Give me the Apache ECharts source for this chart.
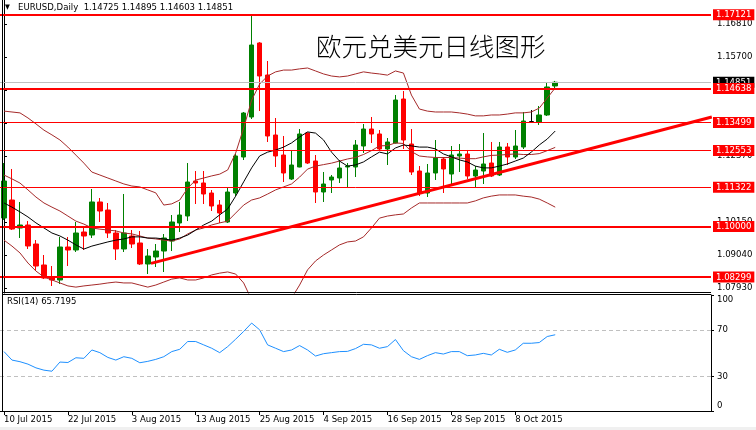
<!DOCTYPE html>
<html><head><meta charset="utf-8">
<script src="https://cdn.jsdelivr.net/npm/echarts@6.0.0/dist/echarts.min.js"></script>
<style>html,body{margin:0;padding:0;background:#fff}#c{width:756px;height:430px}</style>
</head><body><div id="c"></div>
<script>
const symbolName = 'EURUSD';
const periodName = 'Daily';
const chartTitle = '欧元兑美元日线图形';
const dates = ['10 Jul 2015','13 Jul 2015','14 Jul 2015','15 Jul 2015','16 Jul 2015','17 Jul 2015','20 Jul 2015','21 Jul 2015','22 Jul 2015','23 Jul 2015',
'24 Jul 2015','27 Jul 2015','28 Jul 2015','29 Jul 2015','30 Jul 2015','31 Jul 2015','3 Aug 2015','4 Aug 2015','5 Aug 2015','6 Aug 2015',
'7 Aug 2015','10 Aug 2015','11 Aug 2015','12 Aug 2015','13 Aug 2015','14 Aug 2015','17 Aug 2015','18 Aug 2015','19 Aug 2015','20 Aug 2015',
'21 Aug 2015','24 Aug 2015','25 Aug 2015','26 Aug 2015','27 Aug 2015','28 Aug 2015','31 Aug 2015','1 Sep 2015','2 Sep 2015','3 Sep 2015',
'4 Sep 2015','7 Sep 2015','8 Sep 2015','9 Sep 2015','10 Sep 2015','11 Sep 2015','14 Sep 2015','15 Sep 2015','16 Sep 2015','17 Sep 2015',
'18 Sep 2015','21 Sep 2015','22 Sep 2015','23 Sep 2015','24 Sep 2015','25 Sep 2015','28 Sep 2015','29 Sep 2015','30 Sep 2015','1 Oct 2015',
'2 Oct 2015','5 Oct 2015','6 Oct 2015','7 Oct 2015','8 Oct 2015','9 Oct 2015','12 Oct 2015','13 Oct 2015','14 Oct 2015','15 Oct 2015'];
const opens = [1.10284,1.10890,1.09948,1.10049,1.09410,1.08704,1.08300,1.08199,1.09309,1.09208,
1.09813,1.09712,1.10823,1.10553,1.09780,1.09242,1.09679,1.09444,1.08737,1.08973,
1.09174,1.09511,1.10116,1.10352,1.11529,1.11462,1.11125,1.10722,1.10150,1.11125,
1.12336,1.13682,1.16171,1.15094,1.13076,1.12403,1.11596,1.12000,1.13143,1.12202,
1.11159,1.11563,1.11630,1.12000,1.12000,1.12706,1.13278,1.13110,1.12605,1.12807,
1.14287,1.12773,1.11865,1.11125,1.11798,1.12269,1.11764,1.12370,1.12437,1.11697,
1.11865,1.12134,1.11731,1.12673,1.12336,1.12673,1.13530,1.13513,1.13749,1.14725];
const highs = [1.12134,1.11933,1.10823,1.10183,1.09544,1.09040,1.08670,1.09645,1.09645,1.10150,
1.10015,1.11260,1.10957,1.10789,1.09881,1.11092,1.09881,1.09847,1.09242,1.09410,
1.09746,1.10385,1.10823,1.12134,1.11865,1.11865,1.11226,1.10890,1.11293,1.12437,
1.13850,1.17121,1.16200,1.15565,1.13648,1.13043,1.12572,1.13278,1.13160,1.12403,
1.11832,1.11731,1.12235,1.12134,1.12908,1.13446,1.13682,1.13244,1.12975,1.14422,
1.14556,1.13278,1.12033,1.12101,1.12908,1.12336,1.12706,1.12773,1.12572,1.12033,
1.13143,1.12841,1.12841,1.12807,1.13244,1.13850,1.13917,1.14052,1.14859,1.14895];
const lows = [1.10217,1.09881,1.09612,1.09242,1.08502,1.08233,1.07997,1.08064,1.08670,1.09141,
1.09208,1.09612,1.10150,1.09612,1.08872,1.09141,1.09275,1.08704,1.08401,1.08636,
1.08468,1.09174,1.09813,1.10183,1.10755,1.10755,1.10520,1.10116,1.10116,1.11024,
1.12235,1.13614,1.13883,1.12841,1.12000,1.11495,1.11563,1.11990,1.12101,1.10789,
1.10823,1.11125,1.11462,1.11293,1.11663,1.12471,1.12807,1.12538,1.12067,1.12790,
1.12605,1.11731,1.11024,1.10991,1.11563,1.11125,1.11428,1.11832,1.11596,1.11293,
1.11428,1.11663,1.11697,1.12067,1.12269,1.12605,1.13480,1.13413,1.13715,1.14603];
const closes = [1.11529,1.09914,1.10049,1.09343,1.08670,1.08266,1.08199,1.09309,1.09208,1.09780,
1.09679,1.10823,1.10520,1.09780,1.09242,1.09780,1.09410,1.08737,1.09006,1.09174,
1.09612,1.10150,1.10385,1.11495,1.11462,1.11092,1.10688,1.10453,1.11159,1.12370,
1.13816,1.16103,1.15061,1.13043,1.12370,1.11798,1.12067,1.13110,1.12134,1.11159,
1.11428,1.11663,1.11966,1.12033,1.12740,1.13278,1.13110,1.12605,1.12841,1.14253,
1.12908,1.11832,1.11125,1.11798,1.12303,1.11933,1.12403,1.12437,1.11697,1.11899,
1.12101,1.11697,1.12673,1.12336,1.12706,1.13547,1.13530,1.13749,1.14691,1.14851];
const bbUpper = [1.1388,1.1385,1.1382,1.1365,1.1345,1.1324,1.1308,1.1291,1.1267,1.1240,
1.1213,1.1183,1.1173,1.1163,1.1153,1.1143,1.1136,1.1133,1.1123,1.1113,
1.1072,1.1076,1.1089,1.1129,1.1156,1.1163,1.1170,1.1176,1.1190,1.1247,
1.1331,1.1425,1.1479,1.1506,1.1520,1.1526,1.1526,1.1530,1.1533,1.1523,
1.1513,1.1506,1.1503,1.1506,1.1513,1.1520,1.1516,1.1513,1.1509,1.1523,
1.1516,1.1442,1.1395,1.1388,1.1385,1.1385,1.1385,1.1382,1.1378,1.1372,
1.1372,1.1375,1.1375,1.1378,1.1382,1.1382,1.1385,1.1398,1.1432,1.1466];
const bbMiddle = [1.1173,1.1160,1.1146,1.1123,1.1099,1.1079,1.1065,1.1052,1.1035,1.1018,
1.1008,1.0995,1.0991,1.0988,1.0985,1.0978,1.0975,1.0968,1.0961,1.0958,
1.0954,1.0951,1.0958,1.0975,1.0988,1.0995,1.1005,1.1012,1.1018,1.1045,
1.1072,1.1089,1.1096,1.1109,1.1123,1.1133,1.1143,1.1166,1.1193,1.1203,
1.1208,1.1213,1.1220,1.1227,1.1232,1.1242,1.1255,1.1271,1.1272,1.1281,
1.1279,1.1252,1.1237,1.1234,1.1232,1.1232,1.1232,1.1230,1.1228,1.1228,
1.1234,1.1239,1.1240,1.1242,1.1244,1.1242,1.1242,1.1245,1.1255,1.1266];
const bbLower = [1.0954,1.0934,1.0911,1.0877,1.0850,1.0830,1.0820,1.0810,1.0800,1.0796,
1.0800,1.0803,1.0806,1.0810,1.0813,1.0810,1.0810,1.0803,1.0796,1.0803,
1.0813,1.0823,1.0827,1.0820,1.0820,1.0827,1.0837,1.0843,1.0847,1.0840,
1.0810,1.0753,1.0712,1.0716,1.0726,1.0739,1.0759,1.0803,1.0854,1.0884,
1.0904,1.0921,1.0938,1.0948,1.0951,1.0965,1.0995,1.1028,1.1035,1.1039,
1.1042,1.1062,1.1079,1.1079,1.1079,1.1079,1.1079,1.1079,1.1079,1.1086,
1.1096,1.1102,1.1106,1.1106,1.1106,1.1102,1.1099,1.1092,1.1079,1.1065];
const maLine = [1.1079,1.1065,1.1049,1.1032,1.1012,1.0995,1.0978,1.0968,1.0954,1.0938,
1.0924,1.0934,1.0941,1.0948,1.0954,1.0958,1.0965,1.0965,1.0961,1.0961,
1.0958,1.0954,1.0961,1.0971,1.0988,1.1005,1.1018,1.1039,1.1059,1.1102,
1.1150,1.1197,1.1237,1.1250,1.1257,1.1267,1.1281,1.1301,1.1318,1.1314,
1.1291,1.1250,1.1220,1.1203,1.1207,1.1217,1.1234,1.1250,1.1244,1.1264,
1.1274,1.1271,1.1267,1.1267,1.1261,1.1244,1.1234,1.1224,1.1217,1.1203,
1.1197,1.1197,1.1203,1.1210,1.1220,1.1230,1.1250,1.1274,1.1294,1.1321];
const rsi = [51.2,43.9,42.5,40.4,37.2,35.2,34.3,42.2,41.8,45.9,
45.4,52.6,50.3,46.2,43.9,46.8,45.4,41.6,42.8,44.5,
46.8,51.2,53.2,59.9,59.9,57.0,54.1,50.3,55.5,61.9,
68.6,75.8,70.0,57.0,54.1,51.2,52.6,56.4,52.6,47.4,
49.4,50.3,51.2,51.4,53.8,57.5,57.0,54.1,55.5,61.6,
52.0,46.8,44.5,47.7,50.3,49.1,51.2,51.2,47.7,48.3,
49.7,48.3,53.2,50.6,52.6,58.4,58.4,59.0,64.2,65.7195];
const levels = [1.17121,1.14638,1.13499,1.12553,1.11322,1.10000,1.08299];
const currentPrice = 1.14851;
const priceTicks = [1.07930,1.09040,1.10150,1.11260,1.12370,1.13480,1.14590,1.15700,1.16810];
const rsiTicks = [0,30,70,100];
const rsiLevels = [70,30];
const trendX = [18.4, 88.6];
const trendY = [1.0876, 1.1368];

// ---- styling / layout ----
const thickLevels = [1.17121,1.14638,1.10000,1.08299];
const padSlots = 19;
const FONT = '"DejaVu Sans Condensed","Liberation Sans",sans-serif';
const cats = dates.concat(new Array(padSlots).fill(''));
const candles = dates.map((d,i)=>[opens[i],closes[i],lows[i],highs[i]]);
const last = dates.length-1;
const header = symbolName + ',' + periodName + '  ' + [opens[last],highs[last],lows[last],closes[last]].map(v=>v.toFixed(5)).join(' ');
const rsiLabel = 'RSI(14) ' + rsi[last].toFixed(4);
const labelEvery = (i, v) => i % 8 === 0 && v !== '';

const chart = echarts.init(document.getElementById('c'), null, {renderer:'canvas'});
const levelData = [{
  yAxis: currentPrice,
  lineStyle:{color:'#c0c0c0', width:1, type:'solid'},
  label:{backgroundColor:'#000', color:'#fff'}
}].concat(levels.map(v=>({
  yAxis: v,
  lineStyle:{color:'#ff0000', width: thickLevels.includes(v)?2:1, type:'solid'},
  label:{backgroundColor:'#ff0000', color:'#fff'}
})));

chart.setOption({
  animation:false,
  backgroundColor:'#fff',
  grid:[
    {left:-1, right:45, top:0, height:293},
    {left:-1, right:45, top:295, height:116}
  ],
  xAxis:[
    {type:'category', gridIndex:0, data:cats, boundaryGap:true, show:false},
    {type:'value', gridIndex:0, min:-0.5, max:cats.length-0.5, show:false},
    {type:'category', gridIndex:1, data:cats, boundaryGap:true,
     axisLine:{show:true, lineStyle:{color:'#000', width:1}},
     axisTick:{show:true, interval:labelEvery, alignWithLabel:true, length:4, lineStyle:{color:'#000'}},
     axisLabel:{show:true, interval:labelEvery, align:'left', margin:4, color:'#000', fontSize:9.5, fontFamily:FONT},
     splitLine:{show:false}}
  ],
  yAxis:[
    {type:'value', gridIndex:0, position:'right', min:1.07762, max:1.17617, scale:true,
     axisLine:{show:true, lineStyle:{color:'#000', width:1}},
     axisTick:{show:true, length:3, customValues:priceTicks, lineStyle:{color:'#000'}},
     axisLabel:{show:true, customValues:priceTicks, margin:6, color:'#000', fontSize:9.5, fontFamily:FONT,
       formatter:v=>v.toFixed(5)},
     splitLine:{show:false}},
    {type:'value', gridIndex:1, position:'right', min:0, max:100,
     axisLine:{show:true, lineStyle:{color:'#000', width:1}},
     axisTick:{show:true, length:3, customValues:rsiTicks, lineStyle:{color:'#000'}},
     axisLabel:{show:true, customValues:rsiTicks, margin:6, color:'#000', fontSize:9.5, fontFamily:FONT,
       verticalAlignMinLabel:'bottom', verticalAlignMaxLabel:'top'},
     splitLine:{show:false}}
  ],
  series:[
    {type:'candlestick', xAxisIndex:0, yAxisIndex:0, data:candles, barWidth:5, z:2,
     itemStyle:{color:'#008000', color0:'#ff0000', borderColor:'#008000', borderColor0:'#ff0000', borderColorDoji:'#000', borderWidth:1},
     markLine:{silent:true, symbol:['none','none'], z:5, animation:false, precision:5,
       label:{show:true, position:'end', distance:2, fontSize:9.5, fontFamily:FONT, padding:[1,3,0,3],
         formatter:p=>Number(p.value).toFixed(5)},
       emphasis:{disabled:true},
       data:levelData}
    },
    {type:'line', xAxisIndex:0, yAxisIndex:0, data:bbUpper, symbol:'none', lineStyle:{color:'#a52a2a', width:1}, z:3},
    {type:'line', xAxisIndex:0, yAxisIndex:0, data:bbMiddle, symbol:'none', lineStyle:{color:'#a52a2a', width:1}, z:3},
    {type:'line', xAxisIndex:0, yAxisIndex:0, data:bbLower, symbol:'none', lineStyle:{color:'#a52a2a', width:1}, z:3},
    {type:'line', xAxisIndex:0, yAxisIndex:0, data:maLine, symbol:'none', lineStyle:{color:'#000', width:1}, z:3},
    {type:'line', xAxisIndex:1, yAxisIndex:0, data:trendX.map((x,i)=>[x,trendY[i]]), symbol:'none', lineStyle:{color:'#ff0000', width:3}, z:6},
    {type:'line', xAxisIndex:2, yAxisIndex:1, data:rsi, symbol:'none', lineStyle:{color:'#1e90ff', width:1}, z:3,
     markLine:{silent:true, symbol:['none','none'], label:{show:false}, precision:2,
       lineStyle:{color:'#c0c0c0', width:1, type:[4,3]},
       data:rsiLevels.map(v=>({yAxis:v}))}}
  ],
  graphic:[
    {type:'line', shape:{x1:2.5,y1:0,x2:2.5,y2:411}, style:{stroke:'#000', lineWidth:1}, z:10},
    {type:'line', shape:{x1:2.5,y1:292.5,x2:711,y2:292.5}, style:{stroke:'#000', lineWidth:1}, z:10},
    {type:'line', shape:{x1:2.5,y1:294.5,x2:711,y2:294.5}, style:{stroke:'#000', lineWidth:1}, z:10},
    {type:'rect', shape:{x:0,y:427,width:756,height:3}, style:{fill:'#f0f0f0'}, z:1},
    {type:'text', left:5, top:4, style:{text:'▼', fontSize:7, fill:'#000', fontFamily:FONT}, z:20},
    {type:'text', left:18, top:3, style:{text:header, fontSize:9.5, fill:'#000', fontFamily:FONT}, z:20},
    {type:'text', left:316, top:34, style:{text:chartTitle, fontSize:25.5, fill:'#000', fontFamily:'"Noto Sans CJK SC",sans-serif', fontWeight:300}, z:20},
    {type:'text', left:7, top:297, style:{text:rsiLabel, fontSize:9.5, fill:'#000', fontFamily:FONT}, z:20}
  ]
});
</script></body></html>
